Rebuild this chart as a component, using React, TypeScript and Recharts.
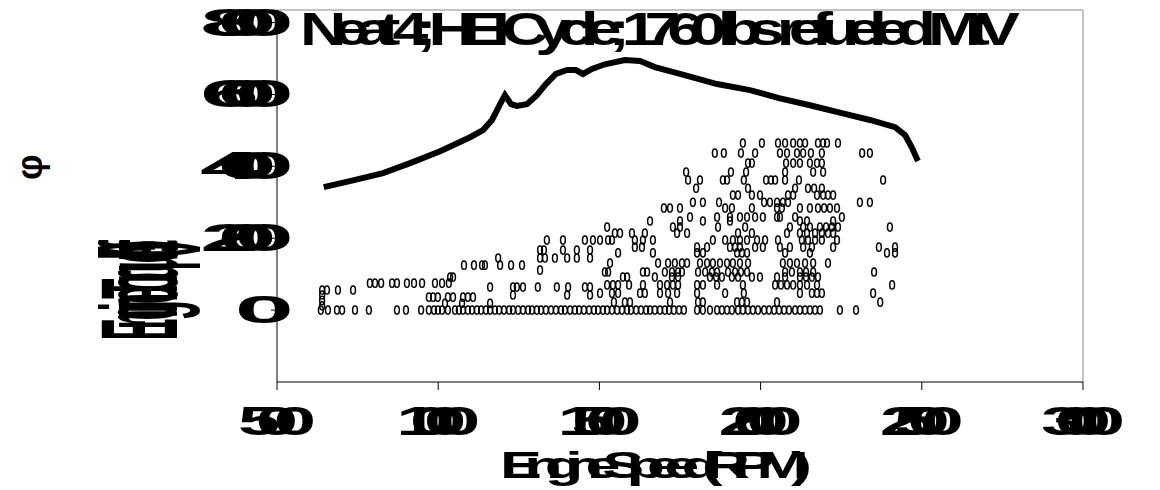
import React from "react";
import {
  ComposedChart,
  Line,
  Scatter,
  XAxis,
  YAxis,
  ReferenceLine,
} from "recharts";

// Full-load torque curve (RPM, lb-ft)
const curveRpm = [
  645, 726, 829, 913, 1006, 1099, 1139, 1167, 1192, 1207, 1226, 1244, 1275,
  1306, 1334, 1365, 1400, 1427, 1449, 1477, 1517, 1579, 1626, 1672, 1750,
  1865, 1967, 2057, 2153, 2252, 2339, 2417, 2448, 2470, 2488,
];
const curveTorque = [
  342, 359, 381, 409, 442, 481, 501, 529, 573, 598, 573, 568, 573, 598, 629,
  657, 668, 668, 657, 671, 684, 696, 693, 676, 657, 629, 612, 590, 570, 548,
  529, 509, 487, 451, 415,
];

// Logged operating points, grouped by torque level: [torque, rpm values]
const loggedRows: Array<[number, number[]]> = [
  [465, [1945, 2004, 2054, 2076, 2101, 2122, 2138, 2178, 2194, 2206, 2240]],
  [437, [1858, 1886, 1939, 1983, 2060, 2082, 2113, 2132, 2156, 2190, 2315, 2339]],
  [409, [1961, 1973, 2079, 2101, 2122, 2153, 2175, 2190]],
  [384, [1769, 1908, 1955, 2076, 2163, 2194]],
  [362, [1775, 1812, 1883, 1896, 1948, 2017, 2032, 2045, 2076, 2119, 2380]],
  [339, [1800, 1961, 2107, 2147, 2166, 2190]],
  [320, [1914, 1930, 1973, 1998, 2085, 2101, 2175, 2194, 2209, 2225]],
  [300, [1790, 1821, 1871, 2011, 2029, 2051, 2069, 2085, 2308, 2339]],
  [284, [1700, 1719, 1750, 1890, 1911, 1973, 2051, 2066, 2122, 2153, 2178, 2197, 2215, 2237]],
  [259, [1781, 1865, 1905, 1936, 1958, 1983, 2007, 2051, 2060, 2107, 2252]],
  [248, [1657, 1750, 1821, 1905, 2122, 2144, 2225]],
  [231, [1524, 1728, 1750, 1868, 1952, 2091, 2132, 2153, 2184, 2203, 2221, 2240, 2401]],
  [214, [1548, 1564, 1601, 1641, 1741, 1772, 1930, 1973, 2082, 2122, 2144, 2169, 2190, 2209, 2225]],
  [195, [1337, 1387, 1455, 1480, 1502, 1527, 1539, 1610, 1635, 1666, 1852, 1890, 1914, 1936, 1958, 1989, 2014, 2054, 2128, 2147, 2169, 2190, 2237]],
  [175, [1610, 1632, 1803, 1834, 1905, 1921, 1936, 1983, 2007, 2060, 2091, 2132, 2159, 2225, 2367, 2417]],
  [167, [1316, 1328, 1387, 1430, 1471]],
  [159, [1558, 1666, 1803, 1821, 1927, 1942, 1958, 2076, 2153, 2392, 2417]],
  [145, [1186, 1316, 1331, 1362, 1400, 1430, 1471]],
  [131, [1533, 1682, 1713, 1734, 1756, 1772, 1812, 1834, 1852, 1874, 1896, 1914, 1936, 1961, 2069, 2091, 2113, 2138, 2163, 2209]],
  [125, [1080, 1111, 1136, 1145, 1192, 1226, 1260]],
  [111, [1316]],
  [106, [1517, 1527, 1635, 1648, 1703, 1725, 1744, 1756, 1806, 1828, 1849, 1865, 1899, 1921, 1939, 1958, 2076, 2097, 2122, 2141, 2163, 2352]],
  [92, [1037, 1046, 1573, 1586, 1672, 1725, 1744, 1843, 1862, 1880, 1911, 1930, 1973, 1998, 2051, 2076, 2122, 2141, 2159, 2178]],
  [75, [788, 804, 823, 857, 872, 903, 925, 950, 990, 1012, 1033]],
  [70, [1524, 1542, 1558, 1592, 1635, 1688, 1710, 1728, 1744, 1803, 1821, 1865, 1945, 2045, 2063, 2082, 2101, 2122, 2144, 2175, 2408]],
  [64, [1161, 1232, 1244, 1263, 1309, 1368, 1403, 1455, 1471]],
  [56, [640, 655, 689, 736]],
  [47, [1502, 1539, 1558, 1626, 1641, 1688, 1713, 1741, 1803, 1890, 1948, 2122, 2159, 2175, 2190, 2349]],
  [42, [640, 1232, 1400, 1471]],
  [36, [971, 984, 999, 1030, 1046, 1077, 1092, 1108]],
  [27, [640]],
  [22, [1545, 1579, 1595, 1719, 1806, 1821, 1927, 1942, 1958, 2051, 2371]],
  [19, [1021, 1074, 1161]],
  [12, [640]],
  [0, [
    636, 658, 686, 702, 742, 785, 872, 900, 947, 971, 987, 999, 1012, 1030,
    1052, 1064, 1077, 1092, 1105, 1120, 1133, 1148, 1161, 1176, 1189, 1204,
    1220, 1232, 1248, 1263, 1279, 1291, 1306, 1319, 1334, 1350, 1365, 1381,
    1393, 1409, 1424, 1437, 1452, 1468, 1483, 1496, 1511, 1524, 1539, 1555,
    1570, 1586, 1598, 1614, 1629, 1645, 1657, 1672, 1688, 1703, 1716, 1731,
    1747, 1762, 1803, 1821, 1843, 1865, 1880, 1896, 1911, 1930, 1945, 1961,
    1976, 1992, 2011, 2026, 2042, 2057, 2073, 2088, 2107, 2122, 2138, 2153,
    2169, 2184, 2246, 2296,
  ]],
];

const rpmTicks = [500, 1000, 1500, 2000, 2500, 3000];
const torqueTicks = [0, 200, 400, 600, 800];

const titleText = "Neat 4; HEI Cycle; 1760 lbs refueled MtV";
const xLabel = "Engine Speed (RPM)";
const yLabel = "Engine Torque (lb-ft)";

const curvePoints = curveRpm.map((rpm, i) => ({ rpm, torque: curveTorque[i] }));
const loggedPoints = loggedRows.flatMap(([torque, rpms]) =>
  rpms.map((rpm) => ({ rpm, torque }))
);

const FONT = "'Liberation Sans', Arial, sans-serif";

interface SquishProps {
  x: number;
  y: number;
  text: string;
  size: number;
  stretch: number;
  span?: number;
  anchor: "start" | "middle" | "end";
  angle?: number;
}

// Wide bold glyphs packed tighter than their advance, so they overlap
function SquishText({ x, y, text, size, stretch, span, anchor, angle = 0 }: SquishProps) {
  return (
    <g transform={`translate(${x},${y}) rotate(${angle}) scale(${stretch},1)`}>
      <text
        x={0}
        y={0}
        fontSize={size}
        fontWeight="bold"
        fontFamily={FONT}
        textAnchor={anchor}
        fill="#000"
        {...(span && text.length > 1
          ? { textLength: span / stretch, lengthAdjust: "spacing" }
          : {})}
      >
        {text}
      </text>
    </g>
  );
}

const YTick = (props: any) => {
  const { x, y, payload } = props;
  const label = String(payload.value);
  return (
    <SquishText
      x={x + 25}
      y={y + 13}
      text={label}
      size={38}
      stretch={2.8}
      span={label.length > 1 ? 94 : undefined}
      anchor="end"
    />
  );
};

const XTick = (props: any) => {
  const { x, payload } = props;
  const label = String(payload.value);
  return (
    <SquishText
      x={x}
      y={435}
      text={label}
      size={40}
      stretch={1.9}
      span={label.length > 3 ? 84 : 78}
      anchor="middle"
    />
  );
};

const RingMarker = (props: any) => {
  const { cx, cy } = props;
  if (cx == null || cy == null) return null;
  return (
    <ellipse cx={cx} cy={cy} rx={2.4} ry={4.1} fill="none" stroke="#000" strokeWidth={1.5} />
  );
};

export default function App() {
  return (
    <div style={{ position: "absolute", left: 0, top: 0, background: "#fff" }}>
      <ComposedChart
        width={1160}
        height={490}
        margin={{ top: 10, right: 77, bottom: 48, left: 217 }}
      >
        <XAxis
          type="number"
          dataKey="rpm"
          domain={[500, 3000]}
          ticks={rpmTicks}
          allowDataOverflow
          height={60}
          tickSize={8}
          axisLine={{ stroke: "#000" }}
          tickLine={{ stroke: "#000" }}
          tick={<XTick />}
          interval={0}
        />
        <YAxis
          type="number"
          dataKey="torque"
          domain={[-200, 835]}
          ticks={torqueTicks}
          allowDataOverflow
          width={60}
          tickSize={6}
          axisLine={{ stroke: "#000" }}
          tickLine={{ stroke: "#000" }}
          tick={<YTick />}
          interval={0}
        />
        <ReferenceLine y={835} stroke="#888" />
        <ReferenceLine x={3000} stroke="#888" />
        <Scatter
          data={loggedPoints}
          dataKey="torque"
          shape={<RingMarker />}
          isAnimationActive={false}
        />
        <Line
          data={curvePoints}
          dataKey="torque"
          type="linear"
          stroke="#000"
          strokeWidth={6}
          dot={false}
          isAnimationActive={false}
        />
        <SquishText x={660} y={45} text={titleText} size={46} stretch={1.4} span={720} anchor="middle" />
        <SquishText x={656} y={478} text={xLabel} size={37} stretch={1.7} span={312} anchor="middle" />
        <SquishText x={177} y={290} text={yLabel} size={110} stretch={0.3} span={100} anchor="middle" angle={-90} />
        <SquishText x={42} y={167} text={"φ"} size={36} stretch={1} anchor="middle" angle={-90} />
      </ComposedChart>
    </div>
  );
}
